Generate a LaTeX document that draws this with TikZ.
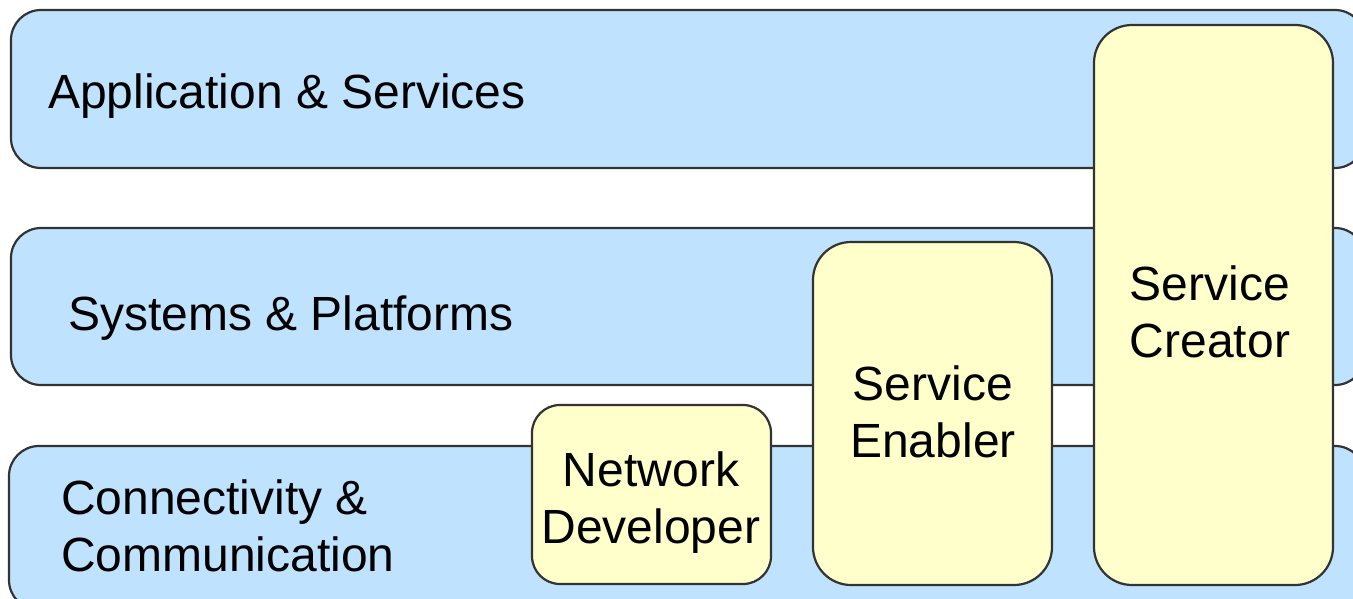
\documentclass[tikz,border=0pt]{standalone}
\usepackage{fontspec}
\setmainfont{Liberation Sans}
\definecolor{layerblue}{RGB}{191,227,255}
\definecolor{roleyellow}{RGB}{255,255,204}
\definecolor{edgegray}{RGB}{51,51,51}
\begin{document}
\begin{tikzpicture}[x=1pt,y=-1pt,
  box/.style={draw=edgegray, line width=2.2pt, inner sep=0pt, outer sep=0pt,
    anchor=north west, rectangle},
  layer/.style={box, fill=layerblue, rounded corners=30pt},
  role/.style={box, fill=roleyellow},
  txt/.style={inner sep=0pt, font=\fontsize{48}{57}\selectfont}]
\useasboundingbox (0,0) rectangle (1353,599);
\clip (0,0) rectangle (1353,599);

% horizontal layers
\node[layer, minimum width=1354pt, minimum height=158pt] (app) at (11,10) {};
\node[layer, minimum width=1354pt, minimum height=157pt] (sys) at (11,228) {};
\node[layer, minimum width=1356pt, minimum height=164pt] (con) at (9,446) {};

\node[txt, anchor=base west] (applbl) at (48,109) {Application \& Services};
\node[txt, anchor=base west] (syslbl) at (68,330) {Systems \& Platforms};
\node[txt, anchor=north west, align=left] (conlbl) at (61,480) {Connectivity \&\\Communication};

% roles spanning the layers
\node[role, rounded corners=28pt, minimum width=239pt, minimum height=179pt] (nd) at (532,405) {};
\node[role, rounded corners=38pt, minimum width=239pt, minimum height=343pt] (se) at (813,242) {};
\node[role, rounded corners=38pt, minimum width=239pt, minimum height=560pt] (sc) at (1094,25) {};

\node[txt, anchor=north, align=center] (ndlbl) at (651,452) {Network\\Developer};
\node[txt, anchor=north, align=center] (selbl) at (933,366) {Service\\Enabler};
\node[txt, anchor=north, align=center] (sclbl) at (1210,266) {Service\\Creator};
\end{tikzpicture}
\end{document}
